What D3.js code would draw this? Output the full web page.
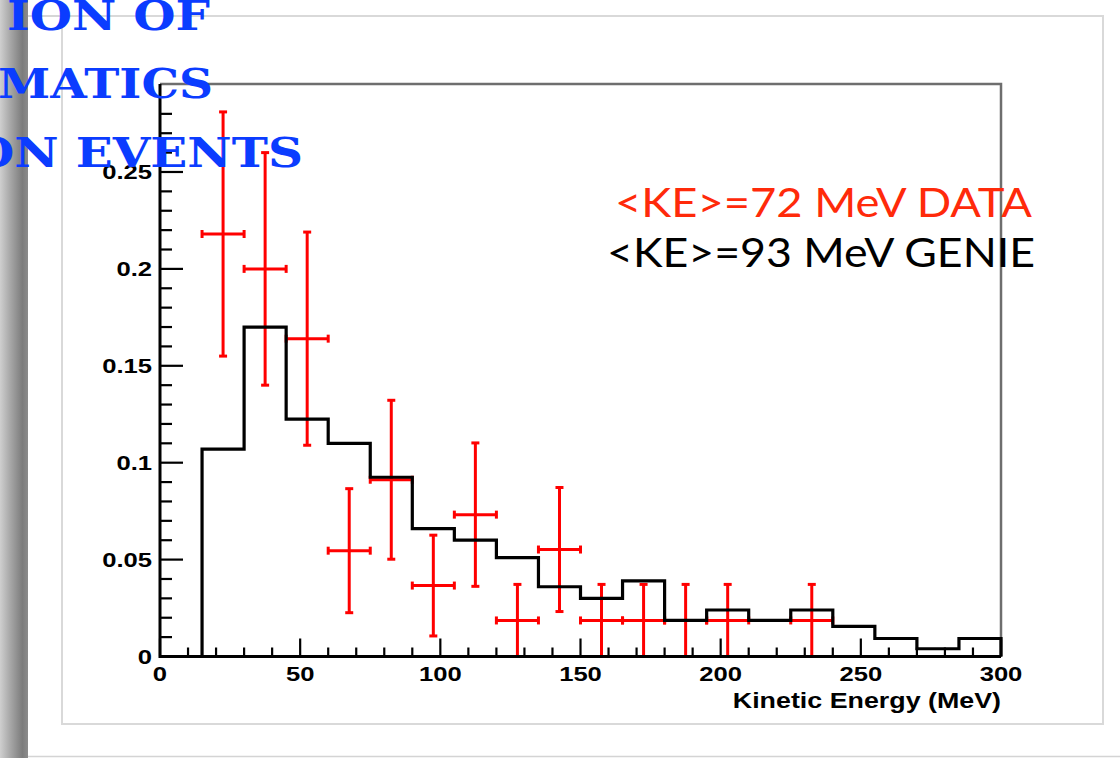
<!DOCTYPE html>
<html><head><meta charset="utf-8">
<script src="https://cdn.jsdelivr.net/npm/d3@7"></script>
<style>body{margin:0;background:#fff}svg{display:block}</style>
</head><body>
<svg id="c" width="1120" height="758"></svg>
<script>
// ---- data ----
const binEdges = [0,15,30,45,60,75,90,105,120,135,150,165,180,195,210,225,240,255,270,285,300];
const genieValues = [0,0.107,0.170,0.1225,0.110,0.0925,0.066,0.060,0.051,0.036,0.030,0.039,0.0186,0.024,0.0186,0.024,0.0155,0.0093,0.004,0.0093];
const dataCenters = [22.5,37.5,52.5,67.5,82.5,97.5,112.5,127.5,142.5,157.5,172.5,187.5,202.5,232.5];
const dataValues  = [0.218,0.200,0.164,0.0546,0.0912,0.0366,0.0732,0.0186,0.0552,0.0186,0.0186,0.0186,0.0186,0.0186];
const dataErrors  = [0.063,0.060,0.055,0.032,0.041,0.026,0.037,0.0186,0.032,0.0186,0.0186,0.0186,0.0186,0.0186];
const dataHalfWidth = 7.5;
const xTicks = [0,50,100,150,200,250,300];
const xTickLabels = ["0","50","100","150","200","250","300"];
const yTicks = [0,0.05,0.1,0.15,0.2,0.25];
const yTickLabels = ["0","0.05","0.1","0.15","0.2","0.25"];
const xTitle = "Kinetic Energy (MeV)";
const legendData = "<KE>=72 MeV DATA";
const legendGenie = "<KE>=93 MeV GENIE";
const titleLines = ["ION OF","MATICS","ON EVENTS"];

// ---- layout ----
const svg = d3.select("#c");
const X0 = 160, X1 = 1001, Y0 = 656.5, YT = 84;
const x = d3.scaleLinear().domain([0,300]).range([X0,X1]);
const y = d3.scaleLinear().domain([0,0.2954]).range([Y0,YT]);
const SX = 1.22;

// background / slide decoration
const defs = svg.append("defs");
const grad = defs.append("linearGradient").attr("id","sh").attr("x1","0").attr("x2","1").attr("y1","0").attr("y2","0");
[[0,"#cfcfcf"],[0.35,"#a9a9a9"],[0.8,"#7c7c7c"],[1,"#8c8c8c"]].forEach(s=>grad.append("stop").attr("offset",s[0]).attr("stop-color",s[1]));
svg.append("rect").attr("x",0).attr("y",0).attr("width",1120).attr("height",758).attr("fill","#fff");
svg.append("rect").attr("x",0).attr("y",0).attr("width",28).attr("height",758).attr("fill","url(#sh)");
svg.append("line").attr("x1",28).attr("x2",1120).attr("y1",756.5).attr("y2",756.5).attr("stroke","#d4d4d4").attr("stroke-width",1.5);
svg.append("line").attr("x1",28).attr("x2",1103).attr("y1",16).attr("y2",16).attr("stroke","#d6d6d6").attr("stroke-width",2);
svg.append("rect").attr("x",62).attr("y",16).attr("width",1041).attr("height",708).attr("fill","#fff").attr("stroke","#d9d9d9").attr("stroke-width",2);

// frame top/right
svg.append("path").attr("d",`M${X0},${YT}H${X1}V${Y0}`).attr("fill","none").attr("stroke","#6e6e6e").attr("stroke-width",2.5);

// data error bars (drawn below histogram)
const gD = svg.append("g").attr("stroke","#ff0000").attr("stroke-width",3).attr("fill","none");
dataCenters.forEach((c,i)=>{
  const v = dataValues[i], e = dataErrors[i];
  const cx = x(c), cy = y(v), yt = y(v+e), yb = y(Math.max(0,v-e));
  const xl = x(c-dataHalfWidth), xr = x(c+dataHalfWidth);
  gD.append("line").attr("x1",cx).attr("x2",cx).attr("y1",yt).attr("y2",yb);
  gD.append("line").attr("x1",xl).attr("x2",xr).attr("y1",cy).attr("y2",cy);
  gD.append("line").attr("x1",cx-4).attr("x2",cx+4).attr("y1",yt).attr("y2",yt);
  if (v-e>0.0005) gD.append("line").attr("x1",cx-4).attr("x2",cx+4).attr("y1",yb).attr("y2",yb);
  gD.append("line").attr("x1",xl).attr("x2",xl).attr("y1",cy-4).attr("y2",cy+4);
  gD.append("line").attr("x1",xr).attr("x2",xr).attr("y1",cy-4).attr("y2",cy+4);
});

// GENIE histogram
const pts = [[0,0]];
genieValues.forEach((v,i)=>{pts.push([binEdges[i],v]);pts.push([binEdges[i+1],v]);});
pts.push([300,0]);
svg.append("path").attr("d",d3.line().x(d=>x(d[0])).y(d=>y(d[1]))(pts))
  .attr("fill","none").attr("stroke","#000").attr("stroke-width",3.2).attr("stroke-linejoin","miter");

// axes lines and ticks
const gA = svg.append("g").attr("stroke","#000");
gA.append("path").attr("d",`M${X0},${YT}V${Y0}H${X1}`).attr("fill","none").attr("stroke-width",3);
d3.range(0,301,10).forEach(t=>{
  const major = t%50===0;
  gA.append("line").attr("x1",x(t)).attr("x2",x(t)).attr("y1",Y0).attr("y2",Y0-(major?18:9)).attr("stroke-width",2.2);
});
d3.range(0,29,1).forEach(k=>{
  const t = k/100, major = k%5===0;
  gA.append("line").attr("x1",X0).attr("x2",X0+(major?23:12)).attr("y1",y(t)).attr("y2",y(t)).attr("stroke-width",2.2);
});

function stext(xx,yy,str,anchor,size){
  return svg.append("text").attr("transform",`translate(${xx},${yy}) scale(${SX},1)`)
    .attr("text-anchor",anchor).attr("font-family","Liberation Sans, Arial, sans-serif")
    .attr("font-weight","bold").attr("font-size",size).attr("fill","#000").text(str);
}
xTicks.forEach((t,i)=>stext(x(t),681,xTickLabels[i],"middle",21));
yTicks.forEach((t,i)=>stext(152,y(t)+7.5,yTickLabels[i],"end",21));
stext(1001,708,xTitle,"end",22);

// legend texts
svg.append("text").attr("x",615).attr("y",217).attr("font-family","Lato, 'Open Sans', sans-serif")
  .attr("font-size",40).attr("fill","#ff2a0a").attr("textLength",417).attr("lengthAdjust","spacingAndGlyphs").text(legendData);
svg.append("text").attr("x",607).attr("y",267).attr("font-family","Lato, 'Open Sans', sans-serif")
  .attr("font-size",40).attr("fill","#000").attr("textLength",428).attr("lengthAdjust","spacingAndGlyphs").text(legendGenie);

// slide title fragments (clipped at left)
const titlePos = [[7,30,203],[-2,98,215],[-28,167,331]];
titleLines.forEach((s,i)=>{
  svg.append("text").attr("x",titlePos[i][0]).attr("y",titlePos[i][1])
    .attr("font-family","'DejaVu Serif', serif").attr("font-weight","bold").attr("font-size",41)
    .attr("fill","#0b3cff").attr("textLength",titlePos[i][2]).attr("lengthAdjust","spacingAndGlyphs").text(s);
});
</script>
</body></html>
